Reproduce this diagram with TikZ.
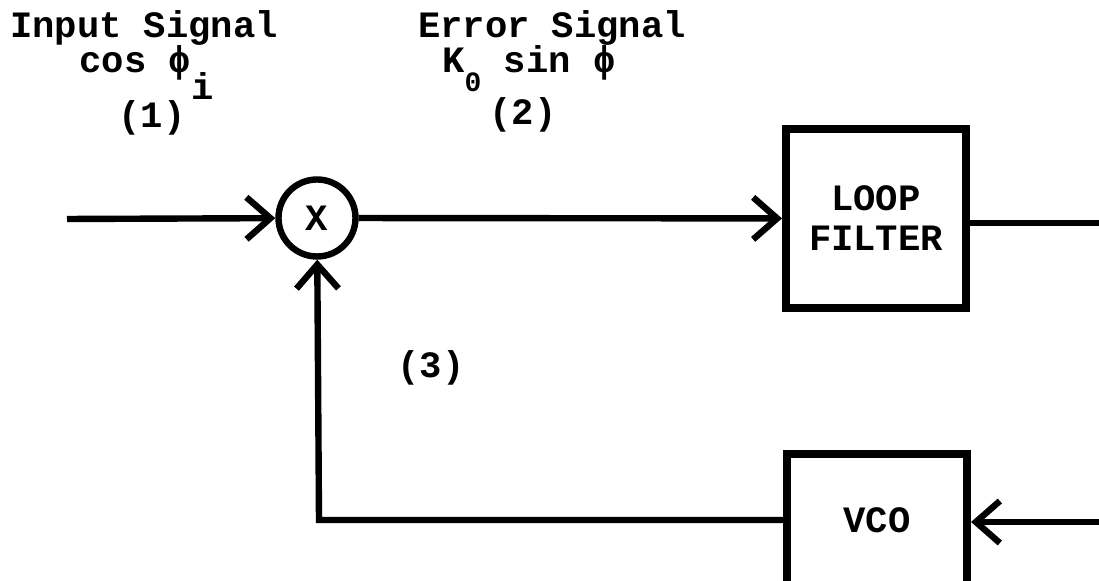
\documentclass[tikz,border=0pt]{standalone}
\usepackage{fontspec}
\setmonofont{Liberation Mono}
\usepackage{tikz}
\usetikzlibrary{arrows.meta}

\begin{document}
\begin{tikzpicture}[x=0.5pt,y=-0.5pt,>={Straight Barb[length=12pt,width=21pt]},
  font=\ttfamily\bfseries\fontsize{18.6}{20}\selectfont,
  wire/.style={line width=3.2pt},
  label/.style={inner sep=0pt,text height=0.62em,text depth=0.15em},
  blockbox/.style={draw,line width=4pt,minimum width=90pt,align=center},
  mixer/.style={draw,circle,line width=3.2pt,minimum size=38.5pt,inner sep=0pt}]
  \useasboundingbox (0,0) rectangle (1099,581);
  \clip (0,0) rectangle (1099,581);
  \node[mixer] (mix) at (317,218) {X};
  \node[blockbox,minimum height=89.5pt] (filter) at (876,218.5) {LOOP\\FILTER};
  \node[blockbox,minimum height=66pt] (vco) at (877,520) {VCO};
  \coordinate (in) at (67,219);
  \coordinate (out) at (1099,223);
  \coordinate (fb) at (1099,522);
  \coordinate (corner) at (319,520);
  \draw[wire,->] (in) -- (mix);
  \draw[wire,->] (mix) -- (filter);
  \draw[wire] (out -| filter.east) -- (out);
  \draw[wire,->] (fb) -- (fb -| vco.east);
  \draw[wire,->] (vco) -- (corner) -- (mix);
  \node[label,anchor=base] (insig) at (144,38) {Input Signal};
  \node[label,anchor=base west] (incos) at (79,73) {cos ϕ\raisebox{-0.7em}{i}};
  \node[label] (innum) at (152,123) {(1)};
  \node[label,anchor=base] (errsig) at (552,38) {Error Signal};
  \node[label,anchor=base west] (errsin) at (442,73) {K\raisebox{-0.5em}{\fontsize{14}{15}\selectfont 0} sin ϕ};
  \node[label] (errnum) at (523,120) {(2)};
  \node[label] (fbnum) at (431,373) {(3)};
\end{tikzpicture}
\end{document}
